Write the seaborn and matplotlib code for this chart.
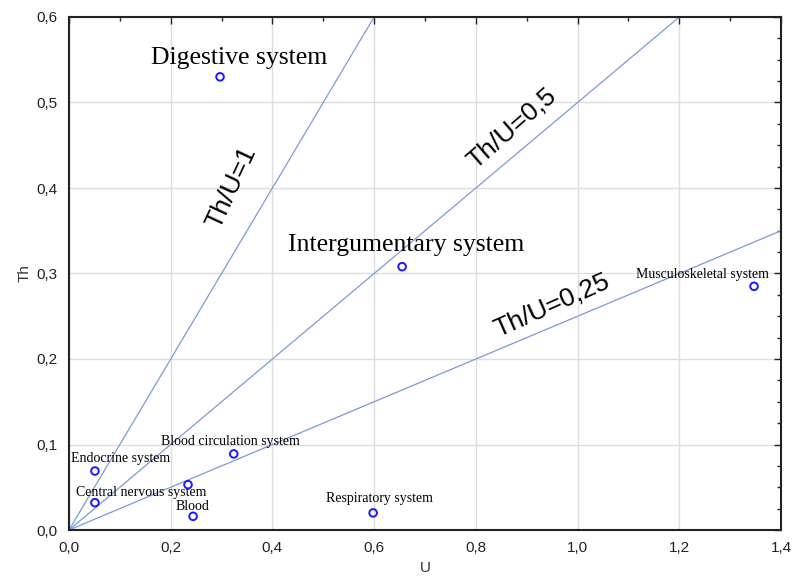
import numpy as np
import pandas as pd
import seaborn as sns
import matplotlib.pyplot as plt
from matplotlib.ticker import FuncFormatter, MultipleLocator

# values
systems = ["Digestive system", "Intergumentary system", "Musculoskeletal system",
           "Blood circulation system", "Endocrine system", "Central nervous system",
           "", "Blood", "Respiratory system"]
u_vals = [0.297, 0.655, 1.347, 0.324, 0.051, 0.051, 0.234, 0.244, 0.598]
th_vals = [0.530, 0.308, 0.285, 0.089, 0.069, 0.032, 0.053, 0.016, 0.020]

ratios = [1, 0.5, 0.25]
ratio_labels = ["Th/U=1", "Th/U=0,5", "Th/U=0,25"]

data = pd.DataFrame({"U": u_vals, "Th": th_vals, "system": systems})

sns.set_style("whitegrid")
plt.rcParams["font.family"] = ["Liberation Sans", "DejaVu Sans"]

fig = plt.figure(figsize=(7.93, 5.83), dpi=100)
ax = fig.add_axes([69 / 793, 53 / 583, 712 / 793, 513 / 583])

# reference lines Th = k*U
line_x = np.array([0, 1.4])
for k in ratios:
    sns.lineplot(x=line_x, y=k * line_x, ax=ax, color="#7b9bd6", linewidth=0.9)

sns.scatterplot(data=data, x="U", y="Th", ax=ax, marker="o", s=30,
                facecolor="none", edgecolor="#1a1aff", linewidth=1.4, zorder=5)

ax.set_xlim(0, 1.4)
ax.set_ylim(0, 0.6)

# big labels
big = {"Digestive system": (0.335, 0.552), "Intergumentary system": (0.662, 0.333)}
small = {"Musculoskeletal system": (1.245, 0.299),
         "Blood circulation system": (0.317, 0.103),
         "Endocrine system": (0.102, 0.084),
         "Central nervous system": (0.142, 0.044),
         "Blood": (0.242, 0.027),
         "Respiratory system": (0.610, 0.037)}
for name, (x, y) in big.items():
    ax.text(x, y, name, family="Liberation Serif", fontsize=18.5, ha="center", va="center", color="black")
for name, (x, y) in small.items():
    ax.text(x, y, name, family="Liberation Serif", fontsize=10, ha="center", va="center", color="black")

# ratio line labels
ax.text(0.32, 0.40, ratio_labels[0], fontsize=19, rotation=65, ha="center", va="center", color="black")
ax.text(0.87, 0.47, ratio_labels[1], fontsize=19, rotation=41, ha="center", va="center", color="black")
ax.text(0.95, 0.263, ratio_labels[2], fontsize=19, rotation=24, ha="center", va="center", color="black")

comma = FuncFormatter(lambda v, p: f"{v:.1f}".replace(".", ","))
ax.xaxis.set_major_locator(MultipleLocator(0.2))
ax.yaxis.set_major_locator(MultipleLocator(0.1))
ax.xaxis.set_minor_locator(MultipleLocator(0.1))
ax.yaxis.set_minor_locator(MultipleLocator(0.025))
ax.xaxis.set_major_formatter(comma)
ax.yaxis.set_major_formatter(comma)
ax.tick_params(which="both", direction="in", top=True, right=True, colors="#222222",
               labelcolor="#222222", labelsize=11)
ax.tick_params(which="major", length=5, width=1)
ax.tick_params(which="minor", length=3, width=1)
ax.tick_params(axis="x", pad=8)
ax.tick_params(axis="y", pad=8)
ax.grid(which="major", color="#dddddd", linewidth=1)
ax.grid(which="minor", visible=False)
for sp in ax.spines.values():
    sp.set_color("#222222")
    sp.set_linewidth(1.5)

ax.set_xlabel("U", fontsize=11, color="#333333")
ax.set_ylabel("Th", fontsize=11, color="#333333")

plt.savefig("out.png", dpi=100)
